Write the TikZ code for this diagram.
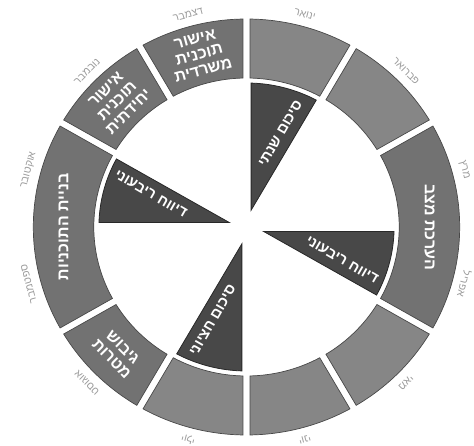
\documentclass[tikz,border=0pt]{standalone}
\usepackage{fontspec}
\newfontfamily\heb[Script=Hebrew]{Liberation Sans}
\TeXXeTstate=1
\newcommand\heR[1]{\beginR #1\endR}
\definecolor{segplain}{HTML}{868686}
\definecolor{segtext}{HTML}{727272}
\definecolor{segline}{HTML}{484848}
\definecolor{wedgefill}{HTML}{484848}
\definecolor{wedgeline}{HTML}{282828}
\definecolor{monthgray}{HTML}{9C9C9C}
% ring segment: start angle, end angle, style
\newcommand\ringseg[3]{%
  \path[#3] ({#1+0.964}:208) arc[start angle={#1+0.964}, end angle={#2-0.964}, radius=208]
    -- ({#2-1.346}:149) arc[start angle={#2-1.346}, end angle={#1+1.346}, radius=149] -- cycle;}
% inner wedge: start angle
\newcommand\wedgeshape[1]{%
  \path[wedgebox] ({#1+15}:17.39) -- ({#1+1.79}:144)
    arc[start angle={#1+1.79}, end angle={#1+28.21}, radius=144] -- cycle;}
\begin{document}
\begin{tikzpicture}[x=1pt,y=1pt,
  plainseg/.style={fill=segplain, draw=segline, line width=0.7pt},
  textseg/.style={fill=segtext, draw=segline, line width=0.7pt},
  wedgebox/.style={fill=wedgefill, draw=wedgeline, line width=0.8pt},
  ringlbl/.style={text=white, font=\heb\bfseries\fontsize{16}{16}\selectfont, align=center, inner sep=0pt},
  wedgelbl/.style={text=white, font=\heb\bfseries\fontsize{14.5}{15}\selectfont, inner sep=0pt},
  monlbl/.style={text=monthgray, font=\heb\fontsize{10.5}{11}\selectfont, inner sep=0pt}]
\useasboundingbox (-246.5,-219) rectangle (227.5,227);
\clip (-246.5,-219) rectangle (227.5,227);
\begin{scope}[xscale=1.025]
  % ring
  \ringseg{60}{90}{plainseg}
  \ringseg{30}{60}{plainseg}
  \ringseg{-30}{30}{textseg}
  \ringseg{-60}{-30}{plainseg}
  \ringseg{-90}{-60}{plainseg}
  \ringseg{-120}{-90}{plainseg}
  \ringseg{-150}{-120}{textseg}
  \ringseg{150}{210}{textseg}
  \ringseg{120}{150}{textseg}
  \ringseg{90}{120}{textseg}
  % inner wedges
  \wedgeshape{60}
  \wedgeshape{-30}
  \wedgeshape{-120}
  \wedgeshape{150}
  % ring texts
  \node[ringlbl, rotate=-90] (t1) at (0:178.5) {\heR{הערכת מצב}};
  \node[ringlbl, rotate=-45] (t2) at (-135:178.5) {\heR{גיבוש}\\\heR{מטרות}};
  \node[ringlbl, rotate=90] (t3) at (180:178.5) {\heR{בניית התוכניות}};
  \node[ringlbl, rotate=45] (t4) at (135:178.5) {\heR{אישור}\\\heR{תוכנית}\\\heR{יחידתית}};
  \node[ringlbl, rotate=15] (t5) at (105:178.5) {\heR{אישור}\\\heR{תוכנית}\\\heR{משרדית}};
  % wedge texts
  \node[wedgelbl, rotate=60] (w1) at (70.5:99) {\heR{סיכום שנתי}};
  \node[wedgelbl, rotate=-30] (w2) at (-19.5:99) {\heR{דיווח ריבעוני}};
  \node[wedgelbl, rotate=60] (w3) at (-109.5:99) {\heR{סיכום חציוני}};
  \node[wedgelbl, rotate=-30] (w4) at (160.5:99) {\heR{דיווח ריבעוני}};
  % month labels
  \node[monlbl, rotate=-15] (m1) at (75:220) {\heR{ינואר}};
  \node[monlbl, rotate=-45] (m2) at (45:220) {\heR{פברואר}};
  \node[monlbl, rotate=-75] (m3) at (15:220) {\heR{מרץ}};
  \node[monlbl, rotate=-105] (m4) at (-15:220) {\heR{אפריל}};
  \node[monlbl, rotate=-135] (m5) at (-45:220) {\heR{מאי}};
  \node[monlbl, rotate=-165] (m6) at (-75:220) {\heR{יוני}};
  \node[monlbl, rotate=-195] (m7) at (-105:220) {\heR{יולי}};
  \node[monlbl, rotate=-225] (m8) at (-135:220) {\heR{אוגוסט}};
  \node[monlbl, rotate=-255] (m9) at (-165:220) {\heR{ספטמבר}};
  \node[monlbl, rotate=75] (m10) at (165:220) {\heR{אוקטובר}};
  \node[monlbl, rotate=45] (m11) at (135:220) {\heR{נובמבר}};
  \node[monlbl, rotate=15] (m12) at (105:220) {\heR{דצמבר}};
\end{scope}
\end{tikzpicture}
\end{document}
